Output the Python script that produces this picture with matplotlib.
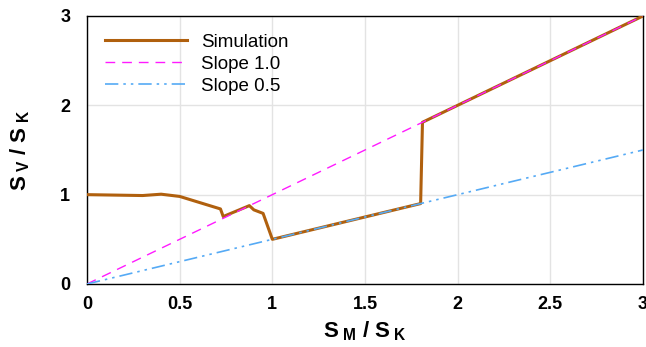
import matplotlib
matplotlib.use("Agg")
import matplotlib.pyplot as plt
import numpy as np

plt.rcParams['font.family'] = ['Liberation Sans', 'DejaVu Sans']
plt.rcParams['mathtext.fontset'] = 'custom'
plt.rcParams['mathtext.rm'] = 'Liberation Sans'
plt.rcParams['mathtext.bf'] = 'Liberation Sans:bold'
plt.rcParams['mathtext.it'] = 'Liberation Sans:italic'

# simulated S_V / S_K against S_M / S_K
sim_x = [0.0, 0.3, 0.4, 0.5, 0.72, 0.735, 0.876, 0.90, 0.95, 1.0, 1.80, 1.81, 3.0]
sim_y = [1.0, 0.99, 1.005, 0.98, 0.84, 0.755, 0.877, 0.83, 0.79, 0.5, 0.90, 1.81, 3.0]

ref_x = [0.0, 3.0]
slope_a = 1.0
slope_b = 0.5

x_ticks = [0, 0.5, 1, 1.5, 2, 2.5, 3]
x_labels = ['0', '0.5', '1', '1.5', '2', '2.5', '3']
y_ticks = [0, 1, 2, 3]

fig = plt.figure(figsize=(6.46, 3.47), dpi=100)
ax = fig.add_axes([0.1347, 0.1816, 0.8607, 0.7724])

ax.plot(sim_x, sim_y, color='#b0600e', linewidth=2.2, label='Simulation', zorder=3)
ax.plot(ref_x, [slope_a * v for v in ref_x], color='#ff1aff', linewidth=1.0,
        dashes=(7, 5), label='Slope 1.0', zorder=4)
ax.plot(ref_x, [slope_b * v for v in ref_x], color='#55aaf5', linewidth=1.2,
        dashes=(8, 3, 1.5, 3, 1.5, 3), label='Slope 0.5', zorder=4)

ax.set_xlim(0, 3)
ax.set_ylim(0, 3)
ax.set_xticks(x_ticks)
ax.set_xticklabels(x_labels)
ax.set_yticks(y_ticks)
ax.tick_params(length=0, labelsize=13)
ax.tick_params(axis='x', pad=9)
ax.tick_params(axis='y', pad=12)
for lab in ax.get_xticklabels() + ax.get_yticklabels():
    lab.set_fontweight('bold')
ax.grid(True, color='#e3e3e3', linewidth=1.0)
ax.set_axisbelow(True)
for sp in ax.spines.values():
    sp.set_linewidth(1.0)

ax.set_xlabel(r'$\mathbf{S}_{\ \mathbf{M}}\ \mathbf{/\ S}_{\ \mathbf{K}}$', fontsize=16, labelpad=4)
ax.set_ylabel(r'$\mathbf{S}_{\ \mathbf{V}}\ \mathbf{/\ S}_{\ \mathbf{K}}$', fontsize=16, labelpad=20)

ax.legend(loc='upper left', frameon=False, fontsize=13.5, handlelength=4.4,
          handletextpad=0.75, labelspacing=0.25, borderaxespad=0.55)

fig.savefig('out.png', dpi=100)
